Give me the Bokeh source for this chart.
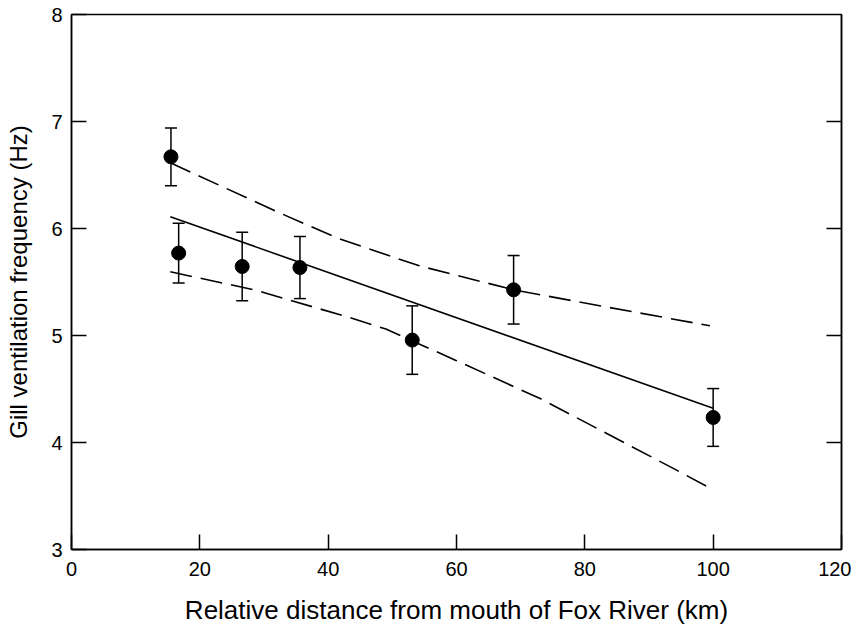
from bokeh.plotting import figure
from bokeh.models import (ColumnDataSource, Whisker, TeeHead, LinearAxis,
                          FixedTicker, Range1d)
from bokeh.embed import file_html
from bokeh.resources import INLINE

# ---- data ----
distance = [15.5, 16.7, 26.6, 35.6, 53.1, 68.9, 100.0]
gvf = [6.67, 5.77, 5.645, 5.635, 4.957, 5.427, 4.234]
gvf_err = [0.27, 0.28, 0.32, 0.29, 0.32, 0.32, 0.27]

fit_x = [15.4, 100.0]
fit_y = [6.11, 4.32]

upper_x = [15.4, 32.4, 41.7, 54.2, 68.9, 82.3, 99.5]
upper_y = [6.614, 6.147, 5.904, 5.651, 5.427, 5.278, 5.091]

lower_x = [15.4, 28.7, 43.3, 49.0, 60.0, 73.2, 94.0, 99.5]
lower_y = [5.595, 5.424, 5.168, 5.060, 4.765, 4.406, 3.751, 3.574]

x_ticks = [0, 20, 40, 60, 80, 100, 120]
y_ticks = [3, 4, 5, 6, 7, 8]

FONT = "Liberation Sans"

p = figure(width=851, height=629, output_backend="svg", toolbar_location=None,
           x_range=Range1d(0, 120), y_range=Range1d(3, 8),
           min_border_left=71, min_border_right=10, min_border_top=14,
           min_border_bottom=80)

p.xgrid.visible = False
p.ygrid.visible = False
p.background_fill_color = "white"
p.border_fill_color = "white"
p.outline_line_color = "black"
p.outline_line_width = 1.5

for ax in (p.xaxis[0], p.yaxis[0]):
    ax.axis_line_color = "black"
    ax.axis_line_width = 1.5
    ax.major_tick_in = 15
    ax.major_tick_out = 0
    ax.major_tick_line_color = "black"
    ax.major_tick_line_width = 1.5
    ax.minor_tick_line_color = None
    ax.major_label_text_font = FONT
    ax.major_label_text_font_size = "20px"
    ax.major_label_text_color = "black"
    ax.axis_label_text_font = FONT
    ax.axis_label_text_font_style = "normal"
    ax.axis_label_text_color = "black"

p.xaxis[0].ticker = FixedTicker(ticks=x_ticks)
p.yaxis[0].ticker = FixedTicker(ticks=y_ticks)
p.xaxis[0].major_label_standoff = 12
p.yaxis[0].major_label_standoff = 9
p.xaxis[0].axis_label_standoff = 16
p.yaxis[0].axis_label_standoff = 16
p.xaxis[0].axis_label_text_font_size = "26px"
p.yaxis[0].axis_label_text_font_size = "24px"
p.xaxis[0].axis_label = "Relative distance from mouth of Fox River (km)"
p.yaxis[0].axis_label = "Gill ventilation frequency (Hz)"

right = LinearAxis(ticker=FixedTicker(ticks=[4, 5, 6, 7]),
                   major_label_overrides={4: "", 5: "", 6: "", 7: ""},
                   major_label_text_font_size="1px",
                   major_tick_in=15, major_tick_out=0,
                   major_tick_line_color="black", major_tick_line_width=1.5,
                   minor_tick_line_color=None, axis_line_color="black",
                   axis_line_width=1.5, major_label_standoff=0)
p.add_layout(right, "right")

# regression + confidence bands
p.line(fit_x, fit_y, line_color="black", line_width=1.6)
p.line(upper_x, upper_y, line_color="black", line_width=1.6, line_dash="22 9")
p.line(lower_x, lower_y, line_color="black", line_width=1.6, line_dash="22 9")

src = ColumnDataSource(dict(
    x=distance, y=gvf,
    upper=[v + e for v, e in zip(gvf, gvf_err)],
    lower=[v - e for v, e in zip(gvf, gvf_err)],
))

w = Whisker(source=src, base="x", upper="upper", lower="lower",
            line_color="black", line_width=1.5,
            upper_head=TeeHead(size=12, line_color="black", line_width=1.5),
            lower_head=TeeHead(size=12, line_color="black", line_width=1.5))
p.add_layout(w)

p.scatter("x", "y", source=src, size=14, fill_color="black",
          line_color="black", marker="circle")

open("out.html", "w").write(file_html(p, INLINE))
